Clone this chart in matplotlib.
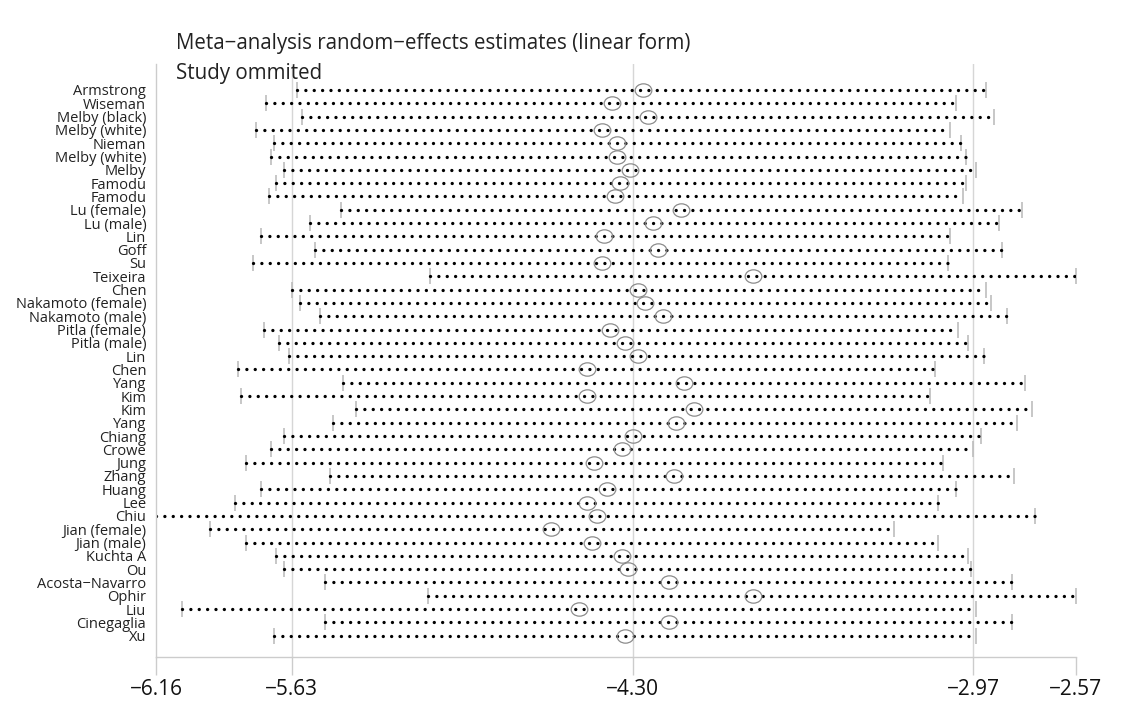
import numpy as np
import matplotlib
matplotlib.use("Agg")
import matplotlib.pyplot as plt
from matplotlib.path import Path
from matplotlib.transforms import Affine2D

plt.rcParams['font.family'] = ['Open Sans', 'DejaVu Sans']

# studies (top to bottom) and the estimate / CI with that study omitted
studies = ["Armstrong", "Wiseman", "Melby (black)", "Melby (white)", "Nieman",
           "Melby (white)", "Melby", "Famodu", "Famodu", "Lu (female)", "Lu (male)",
           "Lin", "Goff", "Su", "Teixeira", "Chen", "Nakamoto (female)",
           "Nakamoto (male)", "Pitla (female)", "Pitla (male)", "Lin", "Chen", "Yang",
           "Kim", "Kim", "Yang", "Chiang", "Crowe", "Jung", "Zhang", "Huang", "Lee",
           "Chiu", "Jian (female)", "Jian (male)", "Kuchta A", "Ou",
           "Acosta\u2212Navarro", "Ophir", "Liu", "Cinegaglia", "Xu"]

est = [-4.26, -4.38, -4.24, -4.42, -4.36, -4.36, -4.31, -4.35, -4.37, -4.11,
       -4.22, -4.41, -4.20, -4.42, -3.83, -4.28, -4.25, -4.18, -4.39, -4.33,
       -4.28, -4.48, -4.10, -4.48, -4.06, -4.13, -4.30, -4.34, -4.45, -4.14,
       -4.40, -4.48, -4.44, -4.62, -4.46, -4.34, -4.32, -4.16, -3.83, -4.51,
       -4.16, -4.33]

lower = [-5.61, -5.73, -5.59, -5.77, -5.70, -5.71, -5.66, -5.69, -5.72, -5.44,
         -5.56, -5.75, -5.54, -5.78, -5.09, -5.63, -5.60, -5.52, -5.74, -5.68,
         -5.64, -5.84, -5.43, -5.83, -5.38, -5.47, -5.66, -5.71, -5.81, -5.48,
         -5.75, -5.85, -6.16, -5.95, -5.81, -5.69, -5.66, -5.50, -5.10, -6.06,
         -5.50, -5.70]

upper = [-2.92, -3.04, -2.89, -3.06, -3.02, -3.00, -2.96, -3.00, -3.01, -2.78,
         -2.87, -3.06, -2.86, -3.07, -2.57, -2.92, -2.90, -2.84, -3.03, -2.99,
         -2.93, -3.12, -2.77, -3.14, -2.74, -2.80, -2.94, -2.97, -3.09, -2.81,
         -3.04, -3.11, -2.73, -3.28, -3.11, -2.99, -2.98, -2.82, -2.57, -2.96,
         -2.82, -2.96]

xticks = [-6.16, -5.63, -4.30, -2.97, -2.57]
gridx = [-5.63, -4.30, -2.97]

W, H = 1123, 701
fig = plt.figure(figsize=(W / 100, H / 100), dpi=100)
ax = fig.add_axes([156 / W, 1 - 657 / H, 920 / W, (657 - 64) / H])

ypos = np.arange(len(studies))

for x in gridx:
    ax.axvline(x, color="#d6d6d6", lw=1.0, zorder=0)

# dotted CI lines
for i in range(len(studies)):
    ax.plot([lower[i], upper[i]], [ypos[i], ypos[i]], color="black",
            lw=2.4, linestyle=(0, (0.01, 2.5)), dash_capstyle="round", zorder=2)

# end ticks
ax.plot(lower, ypos, linestyle="none", marker="|", markersize=11,
        markeredgewidth=1.2, color="#bdbdbd", zorder=1)
ax.plot(upper, ypos, linestyle="none", marker="|", markersize=11,
        markeredgewidth=1.2, color="#bdbdbd", zorder=1)

# slightly wide open circle for the estimate
ell = Path.unit_circle().transformed(Affine2D().scale(1.0, 0.8))
ax.plot(est, ypos, linestyle="none", marker=ell, markersize=12,
        markerfacecolor="none", markeredgecolor="#8c8c8c", markeredgewidth=0.9,
        zorder=3)

ax.set_xlim(-6.16, -2.57)
ax.set_ylim(42.6, -1.95)
ax.set_yticks(ypos)
ax.set_yticklabels(studies, fontsize=10.5, color="#222222")
ax.tick_params(axis="y", length=0, pad=7)
ax.set_xticks(xticks)
ax.set_xticklabels([("\u2212%.2f" % abs(v)) for v in xticks], fontsize=15,
                   color="#111111")
ax.tick_params(axis="x", length=13, width=1.0, color="#cccccc", pad=3)

for s in ["top", "right"]:
    ax.spines[s].set_visible(False)
for s in ["left", "bottom"]:
    ax.spines[s].set_color("#cccccc")
    ax.spines[s].set_linewidth(1.0)

fig.text(176 / W, 1 - 43 / H,
         "Meta\u2212analysis random\u2212effects estimates (linear form)",
         fontsize=14.8, color="#222222", va="center", ha="left")
fig.text(176 / W, 1 - 73 / H, "Study ommited", fontsize=14.8, color="#222222",
         va="center", ha="left")

fig.savefig("out.png", dpi=100)
